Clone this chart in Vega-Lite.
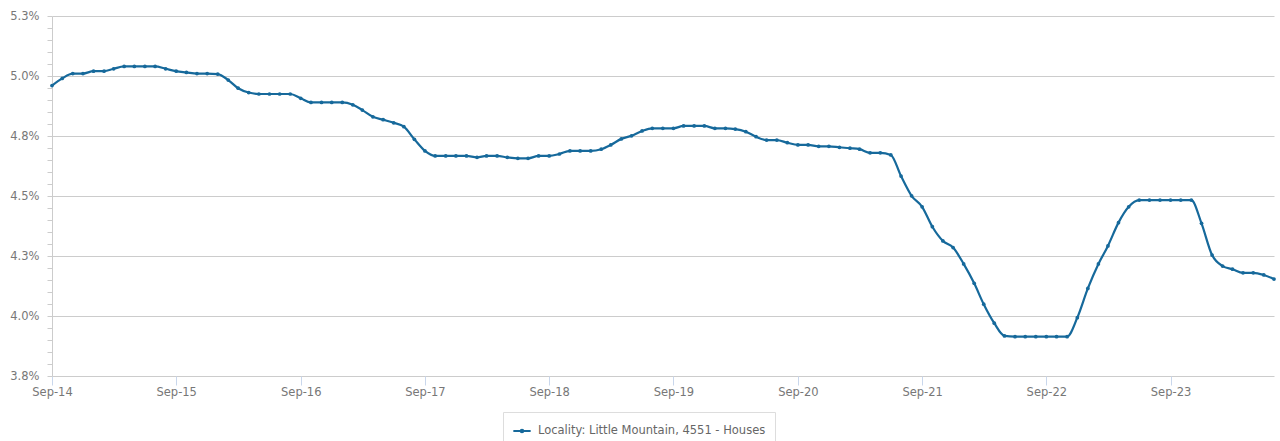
{
  "$schema": "https://vega.github.io/schema/vega-lite/v6.json",
  "autosize": {"type": "none"},
  "width": 1222,
  "height": 360,
  "padding": {"left": 52, "top": 16, "right": 6, "bottom": 65},
  "config": {"font": "DejaVu Sans", "view": {"stroke": null}},
  "data": {"values": [
    {"month": "2014/09/01", "rate": 4.96},
    {"month": "2014/10/01", "rate": 4.99},
    {"month": "2014/11/01", "rate": 5.01},
    {"month": "2014/12/01", "rate": 5.01},
    {"month": "2015/01/01", "rate": 5.02},
    {"month": "2015/02/01", "rate": 5.02},
    {"month": "2015/03/01", "rate": 5.03},
    {"month": "2015/04/01", "rate": 5.04},
    {"month": "2015/05/01", "rate": 5.04},
    {"month": "2015/06/01", "rate": 5.04},
    {"month": "2015/07/01", "rate": 5.04},
    {"month": "2015/08/01", "rate": 5.03},
    {"month": "2015/09/01", "rate": 5.02},
    {"month": "2015/10/01", "rate": 5.015},
    {"month": "2015/11/01", "rate": 5.01},
    {"month": "2015/12/01", "rate": 5.01},
    {"month": "2016/01/01", "rate": 5.008},
    {"month": "2016/02/01", "rate": 4.983},
    {"month": "2016/03/01", "rate": 4.949},
    {"month": "2016/04/01", "rate": 4.931},
    {"month": "2016/05/01", "rate": 4.925},
    {"month": "2016/06/01", "rate": 4.925},
    {"month": "2016/07/01", "rate": 4.925},
    {"month": "2016/08/01", "rate": 4.925},
    {"month": "2016/09/01", "rate": 4.907},
    {"month": "2016/10/01", "rate": 4.89},
    {"month": "2016/11/01", "rate": 4.89},
    {"month": "2016/12/01", "rate": 4.89},
    {"month": "2017/01/01", "rate": 4.89},
    {"month": "2017/02/01", "rate": 4.88},
    {"month": "2017/03/01", "rate": 4.858},
    {"month": "2017/04/01", "rate": 4.83},
    {"month": "2017/05/01", "rate": 4.818},
    {"month": "2017/06/01", "rate": 4.805},
    {"month": "2017/07/01", "rate": 4.789},
    {"month": "2017/08/01", "rate": 4.736},
    {"month": "2017/09/01", "rate": 4.688},
    {"month": "2017/10/01", "rate": 4.667},
    {"month": "2017/11/01", "rate": 4.667},
    {"month": "2017/12/01", "rate": 4.667},
    {"month": "2018/01/01", "rate": 4.667},
    {"month": "2018/02/01", "rate": 4.661},
    {"month": "2018/03/01", "rate": 4.667},
    {"month": "2018/04/01", "rate": 4.667},
    {"month": "2018/05/01", "rate": 4.661},
    {"month": "2018/06/01", "rate": 4.657},
    {"month": "2018/07/01", "rate": 4.657},
    {"month": "2018/08/01", "rate": 4.667},
    {"month": "2018/09/01", "rate": 4.667},
    {"month": "2018/10/01", "rate": 4.675},
    {"month": "2018/11/01", "rate": 4.688},
    {"month": "2018/12/01", "rate": 4.688},
    {"month": "2019/01/01", "rate": 4.688},
    {"month": "2019/02/01", "rate": 4.695},
    {"month": "2019/03/01", "rate": 4.713},
    {"month": "2019/04/01", "rate": 4.738},
    {"month": "2019/05/01", "rate": 4.751},
    {"month": "2019/06/01", "rate": 4.771},
    {"month": "2019/07/01", "rate": 4.782},
    {"month": "2019/08/01", "rate": 4.782},
    {"month": "2019/09/01", "rate": 4.782},
    {"month": "2019/10/01", "rate": 4.792},
    {"month": "2019/11/01", "rate": 4.792},
    {"month": "2019/12/01", "rate": 4.792},
    {"month": "2020/01/01", "rate": 4.782},
    {"month": "2020/02/01", "rate": 4.782},
    {"month": "2020/03/01", "rate": 4.779},
    {"month": "2020/04/01", "rate": 4.768},
    {"month": "2020/05/01", "rate": 4.747},
    {"month": "2020/06/01", "rate": 4.733},
    {"month": "2020/07/01", "rate": 4.733},
    {"month": "2020/08/01", "rate": 4.722},
    {"month": "2020/09/01", "rate": 4.713},
    {"month": "2020/10/01", "rate": 4.713},
    {"month": "2020/11/01", "rate": 4.707},
    {"month": "2020/12/01", "rate": 4.707},
    {"month": "2021/01/01", "rate": 4.703},
    {"month": "2021/02/01", "rate": 4.699},
    {"month": "2021/03/01", "rate": 4.695},
    {"month": "2021/04/01", "rate": 4.68},
    {"month": "2021/05/01", "rate": 4.68},
    {"month": "2021/06/01", "rate": 4.671},
    {"month": "2021/07/01", "rate": 4.583},
    {"month": "2021/08/01", "rate": 4.501},
    {"month": "2021/09/01", "rate": 4.455},
    {"month": "2021/10/01", "rate": 4.372},
    {"month": "2021/11/01", "rate": 4.313},
    {"month": "2021/12/01", "rate": 4.285},
    {"month": "2022/01/01", "rate": 4.217},
    {"month": "2022/02/01", "rate": 4.136},
    {"month": "2022/03/01", "rate": 4.049},
    {"month": "2022/04/01", "rate": 3.97},
    {"month": "2022/05/01", "rate": 3.917},
    {"month": "2022/06/01", "rate": 3.914},
    {"month": "2022/07/01", "rate": 3.914},
    {"month": "2022/08/01", "rate": 3.914},
    {"month": "2022/09/01", "rate": 3.914},
    {"month": "2022/10/01", "rate": 3.914},
    {"month": "2022/11/01", "rate": 3.914},
    {"month": "2022/12/01", "rate": 3.993},
    {"month": "2023/01/01", "rate": 4.115},
    {"month": "2023/02/01", "rate": 4.217},
    {"month": "2023/03/01", "rate": 4.292},
    {"month": "2023/04/01", "rate": 4.389},
    {"month": "2023/05/01", "rate": 4.455},
    {"month": "2023/06/01", "rate": 4.483},
    {"month": "2023/07/01", "rate": 4.483},
    {"month": "2023/08/01", "rate": 4.483},
    {"month": "2023/09/01", "rate": 4.483},
    {"month": "2023/10/01", "rate": 4.483},
    {"month": "2023/11/01", "rate": 4.483},
    {"month": "2023/12/01", "rate": 4.386},
    {"month": "2024/01/01", "rate": 4.254},
    {"month": "2024/02/01", "rate": 4.208},
    {"month": "2024/03/01", "rate": 4.195},
    {"month": "2024/04/01", "rate": 4.18},
    {"month": "2024/05/01", "rate": 4.18},
    {"month": "2024/06/01", "rate": 4.171},
    {"month": "2024/07/01", "rate": 4.154}
  ]},
  "mark": {
    "type": "line",
    "interpolate": "monotone",
    "strokeWidth": 2.2,
    "point": {"filled": true, "size": 14}
  },
  "encoding": {
    "x": {
      "field": "month",
      "type": "temporal",
      "title": null,
      "scale": {"domain": [{"year": 2014, "month": 9, "date": 1}, {"year": 2024, "month": 7, "date": 1}]},
      "axis": {
        "values": [
          {"year": 2014, "month": 9, "date": 1},
          {"year": 2015, "month": 9, "date": 1},
          {"year": 2016, "month": 9, "date": 1},
          {"year": 2017, "month": 9, "date": 1},
          {"year": 2018, "month": 9, "date": 1},
          {"year": 2019, "month": 9, "date": 1},
          {"year": 2020, "month": 9, "date": 1},
          {"year": 2021, "month": 9, "date": 1},
          {"year": 2022, "month": 9, "date": 1},
          {"year": 2023, "month": 9, "date": 1}
        ],
        "format": "%b-%y",
        "grid": false,
        "domain": false,
        "tickColor": "#c9d7ec",
        "tickSize": 9,
        "labelPadding": 1,
        "labelFontSize": 11.5,
        "labelColor": "#777777",
        "labelOverlap": false,
        "labelFlush": false
      }
    },
    "y": {
      "field": "rate",
      "type": "quantitative",
      "title": null,
      "scale": {"domain": [3.75, 5.25], "nice": false, "zero": false},
      "axis": {
        "values": [3.75, 3.8, 3.85, 3.9, 3.95, 4.0, 4.05, 4.1, 4.15, 4.2, 4.25, 4.3, 4.35, 4.4, 4.45, 4.5, 4.55, 4.6, 4.65, 4.7, 4.75, 4.8, 4.85, 4.9, 4.95, 5.0, 5.05, 5.1, 5.15, 5.2, 5.25],
        "labelExpr": "abs(datum.value*4 - round(datum.value*4)) < 0.01 ? format(datum.value, '.1f') + '%' : ''",
        "gridOpacity": {"condition": {"test": "abs(datum.value*4 - round(datum.value*4)) < 0.01", "value": 1}, "value": 0},
        "gridColor": "#cccccc",
        "domainColor": "#cccccc",
        "tickColor": "#cccccc",
        "tickSize": 5,
        "labelPadding": 8,
        "labelFontSize": 11.5,
        "labelColor": "#777777",
        "labelOverlap": false,
        "labelBound": false
      }
    },
    "color": {
      "datum": "Locality: Little Mountain, 4551 - Houses",
      "scale": {"range": ["#16699b"]},
      "legend": {
        "title": null,
        "orient": "none",
        "legendX": 451,
        "legendY": 396,
        "padding": 9,
        "strokeColor": "#dddddd",
        "labelFontSize": 11.5,
        "labelColor": "#666666",
        "labelLimit": 500,
        "symbolType": "M-1,0H1M-0.15,0a0.15,0.15 0 1,0 0.3,0a0.15,0.15 0 1,0 -0.3,0",
        "symbolSize": 300,
        "symbolStrokeWidth": 2,
        "labelOffset": 6
      }
    }
  }
}
